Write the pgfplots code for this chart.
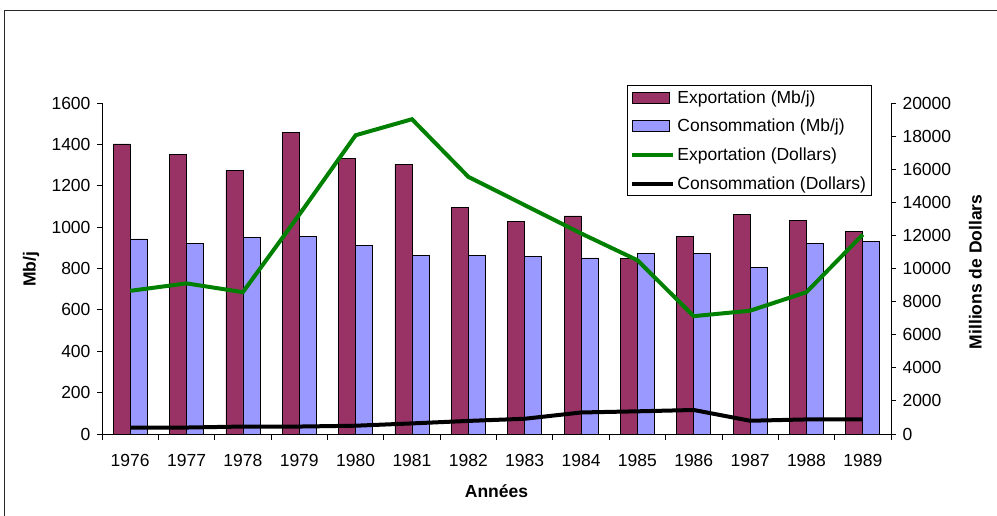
\documentclass[border=0pt]{standalone}
\usepackage{fontspec}
\setmainfont{Liberation Sans}
\usepackage{pgfplots}
\usepackage{pgfplotstable}
\pgfplotsset{compat=1.18}
\definecolor{expbar}{HTML}{993366}
\definecolor{conbar}{HTML}{9999FF}
\definecolor{expline}{HTML}{008000}
\pgfplotstableread{
x year exp con expd cond
0 1976 1402 943 8650 380
1 1977 1350 923 9100 390
2 1978 1273 949 8570 450
3 1979 1457 957 13250 450
4 1980 1331 910 18050 500
5 1981 1304 865 19020 640
6 1982 1094 865 15540 790
7 1983 1028 857 13830 920
8 1984 1054 851 12120 1300
9 1985 849 872 10500 1370
10 1986 957 872 7120 1450
11 1987 1060 804 7450 800
12 1988 1034 923 8570 880
13 1989 981 930 12050 880
}\data
\newcommand{\fs}{\fontsize{17.5}{20}\selectfont}
\pgfplotsset{
  barleg/.style={legend image code/.code={\draw[##1] (0pt,-5.5pt) rectangle (37pt,5.5pt);}},
  lineleg/.style={legend image code/.code={\draw[##1] (0pt,0pt) -- (41pt,0pt);}},
  common/.style={
    at={(102pt,82pt)}, anchor=south west,
    scale only axis, width=789pt, height=331pt,
    xmin=-0.5, xmax=13.5,
    tick align=outside,
    axis line style={line width=0.8pt, black},
    tick style={line width=0.8pt, black},
    tick label style={font=\fs},
    /pgf/number format/assume math mode=true,
    /pgf/number format/1000 sep={},
    scaled y ticks=false,
  }
}
\begin{document}
\begin{tikzpicture}[x=1pt,y=1pt]
\useasboundingbox (0,0) rectangle (997,516);
\draw[line width=1pt, black!85] (4.7,505.7) rectangle (1020,-20);
\begin{axis}[common,
  ymin=0, ymax=1600,
  axis y line*=left, axis x line*=bottom,
  ybar=0pt, bar width=17pt,
  xtick={0,...,13},
  xticklabels={1976,1977,1978,1979,1980,1981,1982,1983,1984,1985,1986,1987,1988,1989},
  minor xtick={-0.5,0.5,...,13.5},
  ytick={0,200,...,1600},
  major tick length=5pt, minor tick length=6pt,
  major x tick style={draw=none},
  minor x tick style={line width=0.8pt, black},
  xticklabel style={yshift=-12pt},
  yticklabel style={xshift=-3pt},
  xlabel={\bfseries Années}, ylabel={\bfseries Mb/j},
  every axis x label/.style={at={(axis description cs:0.5,-0.172)}, anchor=center, font=\fs},
  every axis y label/.style={at={(axis description cs:-0.09,0.497)}, anchor=center, rotate=90, font=\fs},
]
\addplot[fill=expbar, draw=black, line width=0.7pt] table[x=x,y=exp]{\data};
\addplot[fill=conbar, draw=black, line width=0.7pt] table[x=x,y=con]{\data};
\end{axis}
\begin{axis}[common,
  ymin=0, ymax=20000,
  axis y line*=right, axis x line=none,
  ytick={0,2000,...,20000},
  major tick length=5pt,
  yticklabel style={xshift=3pt},
  ylabel={\bfseries Millions de Dollars},
  every axis y label/.style={at={(axis description cs:1.107,0.49)}, anchor=center, rotate=90, font=\fs},
  legend style={at={(axis description cs:0.6654,1.0544)}, anchor=north west,
    draw=black, line width=0.8pt, font=\fs, row sep=10.5pt, inner xsep=3pt, inner ysep=3pt,
    nodes={inner sep=2pt}},
  legend cell align=left,
]
\addlegendimage{fill=expbar, draw=black, line width=0.7pt, barleg}
\addlegendentry{Exportation (Mb/j)}
\addlegendimage{fill=conbar, draw=black, line width=0.7pt, barleg}
\addlegendentry{Consommation (Mb/j)}
\addplot[expline, line width=4pt, lineleg] table[x=x,y=expd]{\data};
\addlegendentry{Exportation (Dollars)}
\addplot[black, line width=4pt, lineleg] table[x=x,y=cond]{\data};
\addlegendentry{Consommation (Dollars)}
\end{axis}
\end{tikzpicture}
\end{document}
